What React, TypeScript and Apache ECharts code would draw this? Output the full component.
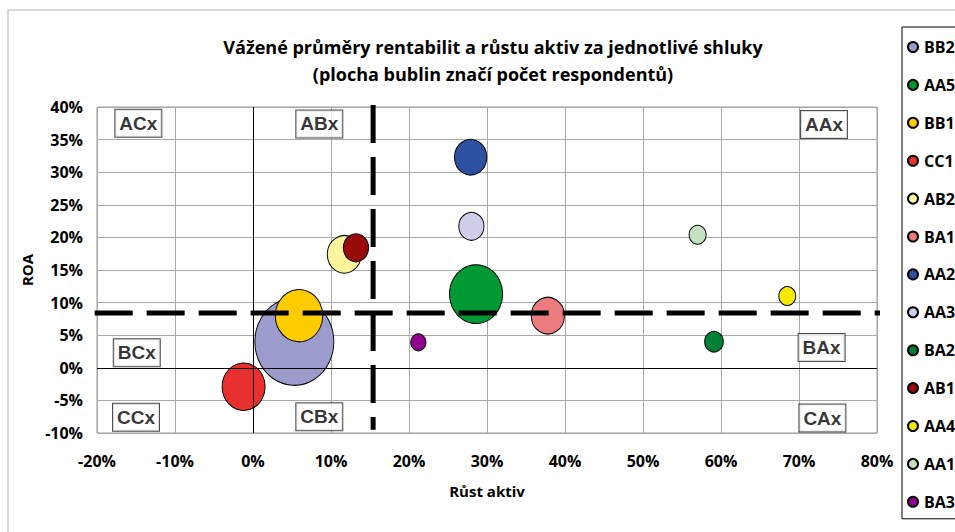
import React, { useEffect, useRef } from "react";
import * as echarts from "echarts";

const clusters = ["BB2", "AA5", "BB1", "CC1", "AB2", "BA1", "AA2", "AA3", "BA2", "AB1", "AA4", "AA1", "BA3"];
const assetGrowth = [5.3, 28.6, 5.9, -1.2, 11.7, 37.8, 27.9, 28.0, 59.1, 13.2, 68.5, 57.0, 21.2];
const roa = [4.0, 11.3, 8.0, -2.9, 17.4, 8.0, 32.3, 21.7, 4.0, 18.4, 11.0, 20.4, 3.9];
const respondents = [108, 49, 39, 32, 20, 19, 18, 11, 6, 11, 5, 5, 4];
const colors = ["#9b9bcc", "#009933", "#ffcc00", "#e8302f", "#fcf59e", "#ec7b80", "#2e50a0", "#cecee8", "#007f35", "#990a0a", "#f7e800", "#c2e2c2", "#900090"];

const quadrantNames = ["ACx", "ABx", "AAx", "BCx", "BAx", "CCx", "CBx", "CAx"];
const quadrantX = [-14.7, 8.5, 73.2, -14.9, 72.9, -15.0, 8.5, 73.0];
const quadrantY = [37.5, 37.4, 37.3, 2.3, 3.1, -7.6, -7.5, -7.7];

const roaThreshold = 8.4;
const roaLineX = [-20.3, 82.6];
const growthThreshold = 15.4;
const growthLineY = [40.3, -9.5];

const xTicks = { min: -20, max: 80, interval: 10 };
const yTicks = { min: -10, max: 40, interval: 5 };

const FONT = "'Open Sans', 'Noto Sans', sans-serif";

export default function App() {
  const ref = useRef<HTMLDivElement>(null);
  useEffect(() => {
    if (!ref.current) return;
    const chart = echarts.init(ref.current, undefined, { renderer: "svg" });
    const bubbleSeries = clusters.map((name, i) => {
      const d = 8 * Math.sqrt(respondents[i]);
      return {
        name,
        type: "scatter",
        data: [[assetGrowth[i], roa[i], respondents[i]]],
        symbol: "circle",
        symbolSize: [d * 0.95, d * 1.05],
        itemStyle: { color: colors[i], borderColor: "#000", borderWidth: 1, opacity: 1 },
        z: 3,
      };
    });
    const dashStyle = { color: "#000", width: 5, type: [38, 14] as number[], cap: "butt" };
    const option: any = {
      animation: false,
      backgroundColor: "#fff",
      title: {
        text: "Vážené průměry rentabilit a růstu aktiv za jednotlivé shluky\n(plocha bublin značí počet respondentů)",
        left: 488,
        top: 28,
        textAlign: "center",
        textStyle: { fontFamily: FONT, fontWeight: "bold", fontSize: 18, color: "#000", lineHeight: 27 },
      },
      legend: {
        data: clusters,
        orient: "vertical",
        left: 902,
        top: 27,
        padding: [11, 40, 8, 5],
        itemGap: 19.9,
        itemWidth: 10,
        itemHeight: 10,
        icon: "circle",
        borderColor: "#000",
        borderWidth: 1,
        selectedMode: false,
        textStyle: { fontFamily: FONT, fontWeight: "bold", fontSize: 16, lineHeight: 18, color: "#000", padding: [0, 0, 0, 1] },
      },
      grid: { left: 97, right: 78, top: 107, bottom: 99, show: true, borderColor: "#9a9a9a", borderWidth: 1 },
      xAxis: {
        type: "value",
        min: xTicks.min,
        max: xTicks.max,
        interval: xTicks.interval,
        name: "Růst aktiv",
        nameLocation: "middle",
        nameGap: 50,
        nameTextStyle: { fontFamily: FONT, fontWeight: "bold", fontSize: 15, color: "#000" },
        axisLine: { show: false },
        axisTick: { show: false },
        axisLabel: { formatter: (v: number) => `${v}%`, fontFamily: FONT, fontWeight: "bold", fontSize: 16, color: "#000", margin: 20 },
        splitLine: { show: true, lineStyle: { color: "#a8a8a8", width: 1 } },
      },
      yAxis: {
        type: "value",
        min: yTicks.min,
        max: yTicks.max,
        interval: yTicks.interval,
        name: "ROA",
        nameLocation: "middle",
        nameGap: 62,
        nameTextStyle: { fontFamily: FONT, fontWeight: "bold", fontSize: 15, color: "#000" },
        axisLine: { show: false },
        axisTick: { show: false },
        axisLabel: { formatter: (v: number) => `${v}%`, fontFamily: FONT, fontWeight: "bold", fontSize: 16, color: "#000", margin: 14 },
        splitLine: { show: true, lineStyle: { color: "#a8a8a8", width: 1 } },
      },
      graphic: [
        { type: "rect", shape: { x: 8, y: 10, width: 1200, height: 1000 }, style: { fill: "none", stroke: "#cfcfcf", lineWidth: 1.5 }, silent: true, z: -1 },
      ],
      series: [
        {
          name: "quadrants",
          type: "scatter",
          data: quadrantNames.map((n, i) => ({ value: [quadrantX[i], quadrantY[i]], name: n })),
          symbolSize: 0,
          z: 4,
          label: {
            show: true,
            position: "inside",
            formatter: (p: any) => p.name,
            fontFamily: "'Liberation Sans', Arial, sans-serif",
            fontWeight: "bold",
            fontSize: 19,
            color: "#000",
            backgroundColor: "#fff",
            borderColor: "#222",
            borderWidth: 1,
            padding: [4, 4, 2, 4],
            lineHeight: 21,
          },
          markLine: {
            silent: true,
            symbol: "none",
            label: { show: false },
            lineStyle: { color: "#000", width: 1, type: "solid" },
            data: [{ xAxis: 0 }, { yAxis: 0 }],
          },
        },
        ...bubbleSeries,
        {
          name: "roaLine",
          type: "line",
          data: roaLineX.map((x) => [x, roaThreshold]),
          clip: false,
          symbol: "none",
          lineStyle: dashStyle,
          z: 10,
          silent: true,
        },
        {
          name: "growthLine",
          type: "line",
          data: growthLineY.map((y) => [growthThreshold, y]),
          clip: false,
          symbol: "none",
          lineStyle: dashStyle,
          z: 10,
          silent: true,
        },
      ],
    };
    chart.setOption(option);
    return () => chart.dispose();
  }, []);
  return <div ref={ref} style={{ position: "fixed", left: 0, top: 0, width: 955, height: 532 }} />;
}
